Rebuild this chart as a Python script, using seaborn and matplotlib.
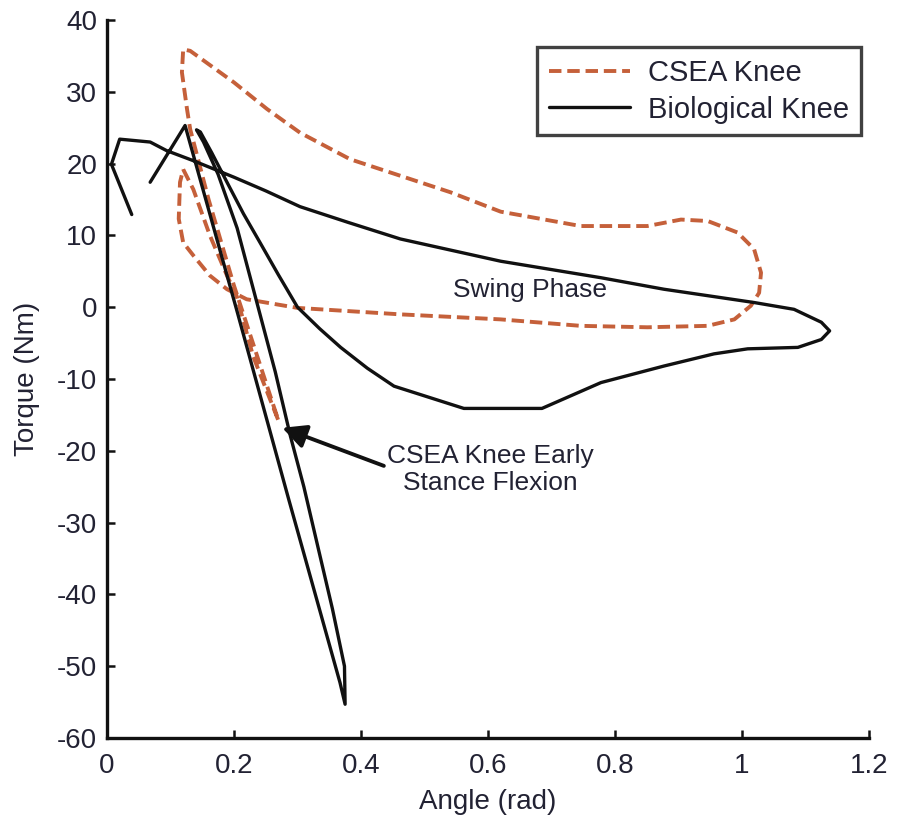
import numpy as np
import pandas as pd
import matplotlib
matplotlib.use("Agg")
import matplotlib.pyplot as plt
import seaborn as sns

# CSEA knee torque-angle loop
csea_angle = [0.12, 0.136, 0.162, 0.189, 0.204, 0.23, 0.27, 0.2, 0.16, 0.131,
              0.126, 0.118, 0.12, 0.131, 0.2, 0.252, 0.304, 0.383, 0.462, 0.541,
              0.62, 0.746, 0.851, 0.904, 0.946, 0.993, 1.019, 1.03, 1.027, 1.014,
              0.988, 0.946, 0.851, 0.746, 0.62, 0.462, 0.3, 0.22, 0.189, 0.162,
              0.136, 0.12, 0.113, 0.115, 0.12]
csea_torque = [19.2, 16.4, 10.0, 4.4, 1.6, -6.8, -15.8, 3.0, 15.0, 24.8,
               27.6, 32.7, 35.9, 35.7, 31.3, 27.6, 24.3, 20.6, 18.3, 16.0,
               13.3, 11.3, 11.3, 12.2, 12.0, 10.4, 8.1, 4.8, 2.0, 0.2,
               -1.7, -2.6, -2.8, -2.6, -1.7, -1.0, -0.1, 1.1, 2.5, 4.4,
               7.2, 9.0, 12.3, 17.4, 19.2]

# biological knee torque-angle loop
bio_angle = [0.068, 0.123, 0.204, 0.286, 0.367, 0.375, 0.374, 0.355, 0.333, 0.31,
             0.289, 0.265, 0.235, 0.205, 0.175, 0.152, 0.141, 0.147, 0.165, 0.189,
             0.215, 0.241, 0.27, 0.3, 0.335, 0.368, 0.41, 0.452, 0.562, 0.685,
             0.778, 0.877, 0.956, 1.009, 1.088, 1.125, 1.138, 1.125, 1.082, 1.019,
             0.877, 0.778, 0.62, 0.462, 0.38, 0.304, 0.25, 0.2, 0.136, 0.094,
             0.068, 0.02, 0.007, 0.039]
bio_torque = [17.4, 25.3, -0.3, -26.7, -52.3, -55.3, -50.0, -42.0, -33.7, -25.0,
              -18.0, -9.0, 1.0, 11.0, 18.5, 23.0, 24.7, 24.4, 21.5, 17.4,
              13.0, 9.0, 4.5, 0.0, -3.0, -5.6, -8.5, -11.0, -14.1, -14.1,
              -10.5, -8.2, -6.5, -5.8, -5.6, -4.5, -3.3, -2.1, -0.3, 0.65,
              2.5, 4.1, 6.4, 9.5, 11.8, 14.0, 16.2, 18.1, 20.4, 21.8,
              23.0, 23.4, 19.9, 12.9]

x_ticks = [0, 0.2, 0.4, 0.6, 0.8, 1.0, 1.2]
x_ticklabels = ["0", "0.2", "0.4", "0.6", "0.8", "1", "1.2"]
y_ticks = [-60, -50, -40, -30, -20, -10, 0, 10, 20, 30, 40]

sns.set_style("ticks")
plt.rcParams['font.family'] = ['Liberation Sans', 'DejaVu Sans']
plt.rcParams['axes.unicode_minus'] = False

orange = "#c5603a"
txt = "#222233"

fig = plt.figure(figsize=(8.99, 8.18), dpi=100)
ax = fig.add_axes([0.119, 0.0978, 0.8476, 0.8778])

df_csea = pd.DataFrame({"angle": csea_angle, "torque": csea_torque})
df_bio = pd.DataFrame({"angle": bio_angle, "torque": bio_torque})

sns.lineplot(data=df_csea, x="angle", y="torque", sort=False, estimator=None,
             color=orange, lw=2.8, ax=ax, label="CSEA Knee", zorder=2)
ax.lines[-1].set_dashes((3.2, 1.5))
sns.lineplot(data=df_bio, x="angle", y="torque", sort=False, estimator=None,
             color="#111111", lw=2.4, ax=ax, label="Biological Knee", zorder=3)

ax.set_xlim(0, 1.2)
ax.set_ylim(-60, 40)
ax.set_xticks(x_ticks)
ax.set_xticklabels(x_ticklabels)
ax.set_yticks(y_ticks)
ax.tick_params(direction="in", length=6, width=1.8, labelsize=20, colors="#111111",
               labelcolor=txt)
ax.tick_params(axis="x", pad=11)
ax.tick_params(axis="y", pad=7)
sns.despine(ax=ax)
for s in ["left", "bottom"]:
    ax.spines[s].set_linewidth(2.4)
    ax.spines[s].set_color("#111111")

ax.set_xlabel("Angle (rad)", fontsize=20, color=txt, labelpad=7)
ax.set_ylabel("Torque (Nm)", fontsize=20, color=txt, labelpad=12)

ax.text(0.666, 2.4, "Swing Phase", fontsize=19, color=txt, ha="center", va="center")
ax.annotate("", xy=(0.276, -16.8), xytext=(0.436, -22.1),
            arrowprops=dict(arrowstyle="-|>", color="#111111", lw=2.8,
                            mutation_scale=36, shrinkA=0, shrinkB=0))
ax.text(0.604, -22.6, "CSEA Knee Early\nStance Flexion", fontsize=19, color=txt,
        ha="center", va="center", linespacing=1.15)

leg = ax.legend(loc="upper right", bbox_to_anchor=(0.989, 0.962), fontsize=21,
                frameon=True, fancybox=False, borderaxespad=0, handlelength=2.8,
                labelspacing=0.3, borderpad=0.4, handletextpad=0.6)
leg.get_frame().set_edgecolor("#111111")
leg.get_frame().set_linewidth(2.4)
for t in leg.get_texts():
    t.set_color(txt)

fig.savefig("out.png", dpi=100)
